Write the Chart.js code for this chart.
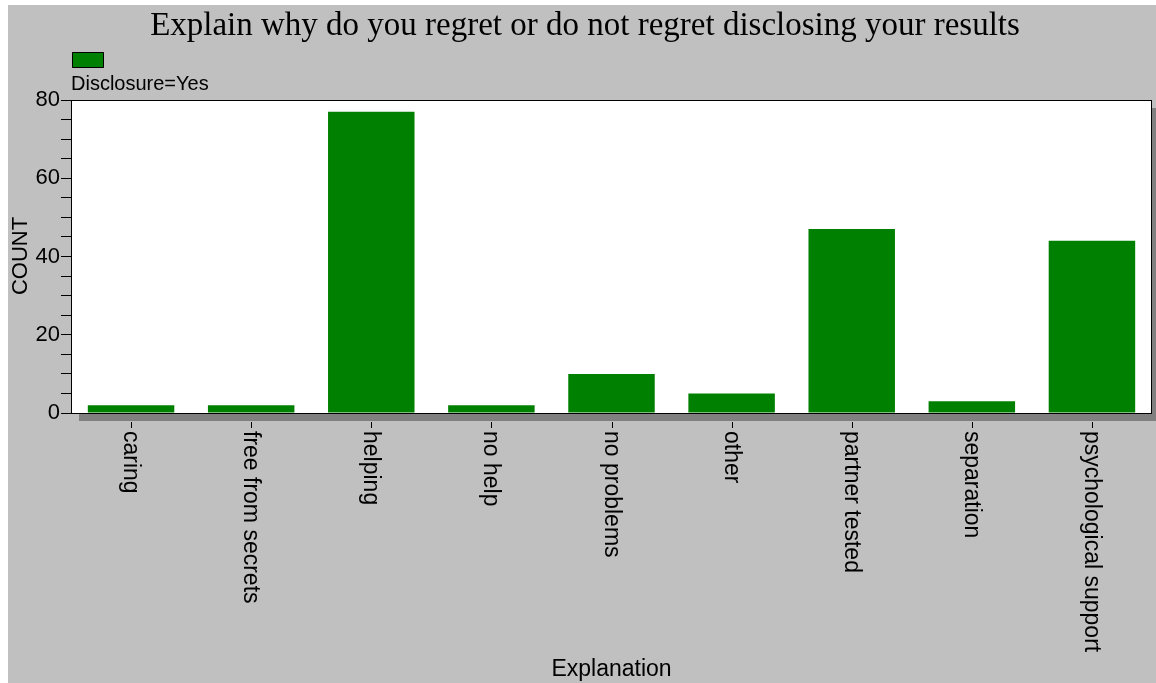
<!DOCTYPE html>
<html>
<head>
<meta charset="utf-8">
<script src="https://cdn.jsdelivr.net/npm/chart.js@4"></script>
<style>
  html, body { margin: 0; padding: 0; background: #ffffff; }
  #wrap { position: absolute; left: 8px; top: 5px; width: 1148px; height: 678px; background: #c0c0c0; }
</style>
</head>
<body>
<div id="wrap"><canvas id="chart" width="1148" height="678"></canvas></div>
<script>
// ── DATA ──
const chartTitle = 'Explain why do you regret or do not regret disclosing your results';
const categories = ['caring', 'free from secrets', 'helping', 'no help', 'no problems', 'other', 'partner tested', 'separation', 'psychological support'];
const counts     = [2, 2, 77, 2, 10, 5, 47, 3, 44];
const seriesName = 'Disclosure=Yes';
const yTicks     = [0, 20, 40, 60, 80];
const xTitle     = 'Explanation';
const yTitle     = 'COUNT';

const GREEN = '#008000';
const SANS  = '"Liberation Sans", Arial, sans-serif';
const SERIF = '"Liberation Serif", "Times New Roman", serif';

// ── DECORATIONS (shadow, frame, title, legend, rotated labels) ──
const decor = {
    id: 'decor',
    beforeDatasetsDraw(chart) {
        const { ctx, chartArea: a } = chart;
        ctx.save();
        ctx.fillStyle = '#808080';
        ctx.fillRect(a.left + 8, a.top + 8, a.right - a.left, a.bottom - a.top);
        ctx.fillStyle = '#ffffff';
        ctx.fillRect(a.left, a.top, a.right - a.left, a.bottom - a.top);
        ctx.restore();
    },
    afterDraw(chart) {
        const { ctx, chartArea: a } = chart;
        const x = chart.scales.x;
        ctx.save();

        // frame
        ctx.strokeStyle = '#000';
        ctx.lineWidth = 1;
        ctx.strokeRect(a.left + 0.5, a.top + 0.5, a.right - a.left - 1, a.bottom - a.top);

        // title
        ctx.fillStyle = '#000';
        ctx.font = '33px ' + SERIF;
        ctx.textAlign = 'center';
        ctx.textBaseline = 'middle';
        ctx.fillText(chartTitle, 577, 21);

        // legend
        ctx.fillStyle = GREEN;
        ctx.fillRect(64, 47, 31, 15);
        ctx.strokeStyle = '#000';
        ctx.strokeRect(64.5, 47.5, 31, 15);
        ctx.fillStyle = '#000';
        ctx.font = '20px ' + SANS;
        ctx.textAlign = 'left';
        ctx.fillText(seriesName, 63, 79);

        // x ticks + rotated category labels
        ctx.font = '23px ' + SANS;
        categories.forEach((c, i) => {
            const px = Math.round(x.getPixelForValue(i)) + 0.5;
            ctx.beginPath();
            ctx.moveTo(px, a.bottom + 9);
            ctx.lineTo(px, a.bottom + 15);
            ctx.stroke();
            ctx.save();
            ctx.translate(px - 1, a.bottom + 18);
            ctx.rotate(Math.PI / 2);
            ctx.textAlign = 'left';
            ctx.textBaseline = 'middle';
            ctx.fillText(c, 0, 0);
            ctx.restore();
        });

        // axis titles
        ctx.textAlign = 'center';
        ctx.textBaseline = 'middle';
        ctx.fillText(xTitle, (a.left + a.right) / 2, 665);
        ctx.font = '22px ' + SANS;
        ctx.save();
        ctx.translate(13, 251);
        ctx.rotate(-Math.PI / 2);
        ctx.fillText(yTitle, 0, 0);
        ctx.restore();

        ctx.restore();
    }
};

new Chart(document.getElementById('chart'), {
    type: 'bar',
    data: {
        labels: categories,
        datasets: [{
            label: seriesName,
            data: counts,
            backgroundColor: GREEN,
            borderColor: GREEN,
            borderWidth: 0,
            barPercentage: 0.72,
            categoryPercentage: 1.0
        }]
    },
    options: {
        responsive: false,
        animation: false,
        layout: { padding: { top: 95, right: 4, left: 0, bottom: 0 } },
        plugins: { legend: { display: false }, title: { display: false }, tooltip: { enabled: false } },
        scales: {
            x: {
                grid: { display: false },
                border: { display: false },
                ticks: { display: false },
                afterFit: s => { s.height = 270; }
            },
            y: {
                min: 0, max: 80,
                grid: { drawOnChartArea: false, drawTicks: true, tickLength: 10, color: '#000' },
                border: { display: true, color: '#000' },
                ticks: {
                    stepSize: 5,
                    autoSkip: false,
                    padding: 1,
                    color: '#000',
                    font: { family: SANS, size: 22 },
                    callback: v => yTicks.includes(v) ? String(v) : ''
                },
                afterFit: s => { s.width = 63; }
            }
        }
    },
    plugins: [decor]
});
</script>
</body>
</html>
